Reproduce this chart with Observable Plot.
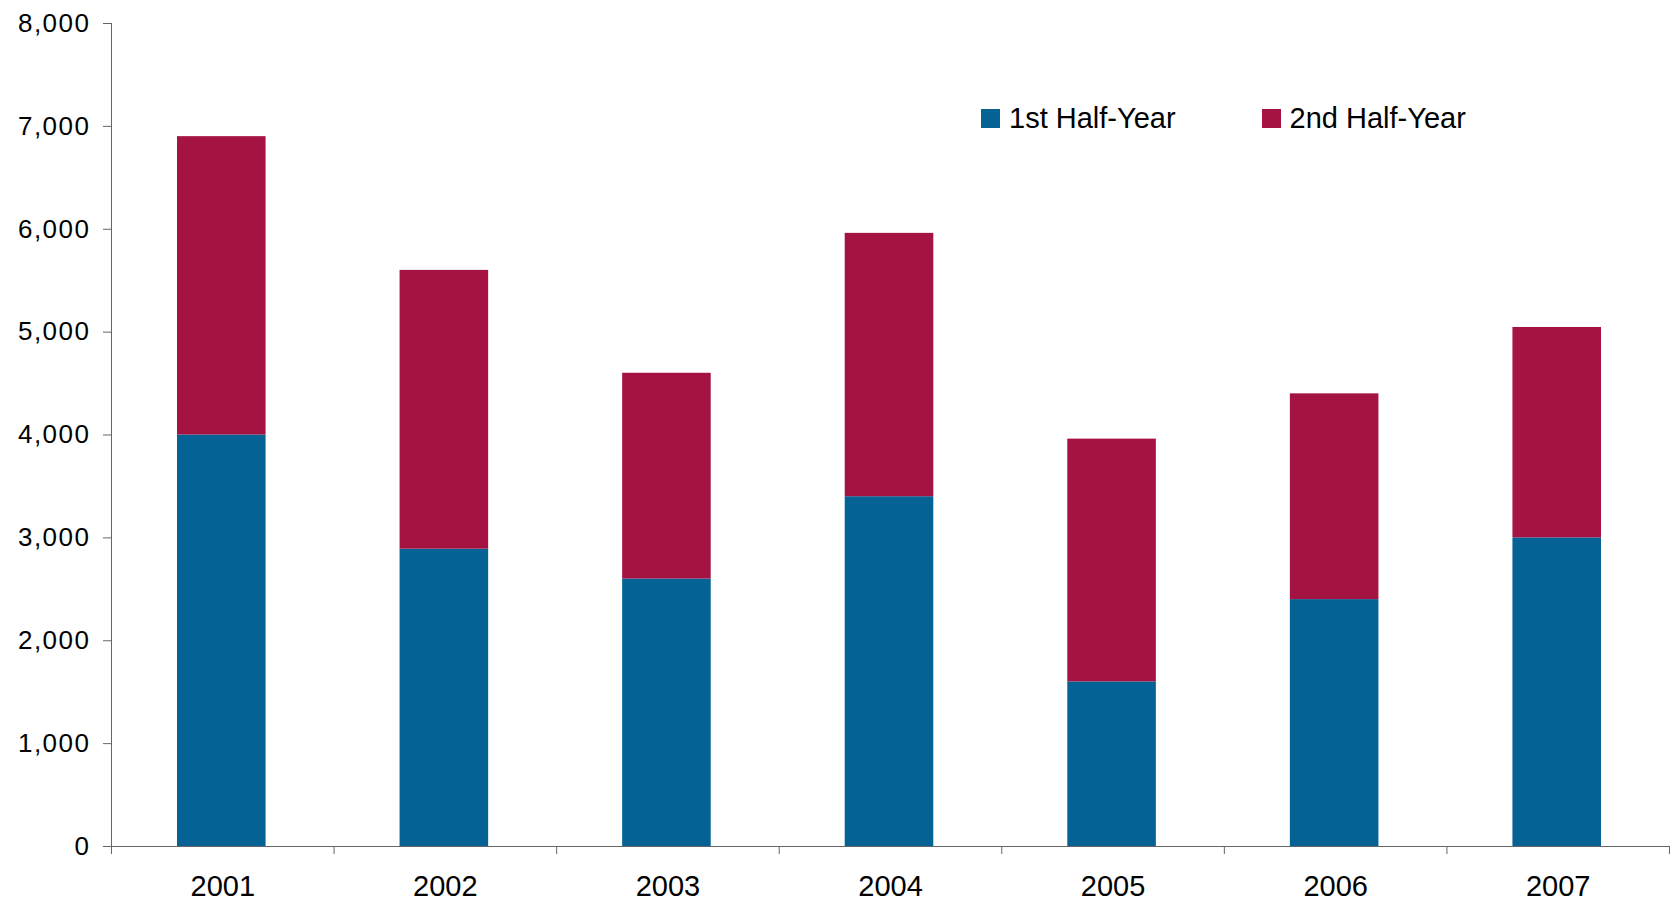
<!DOCTYPE html>
<html>
<head>
<meta charset="utf-8">
<script src="https://cdn.jsdelivr.net/npm/d3@7"></script>
<script src="https://cdn.jsdelivr.net/npm/@observablehq/plot@0.6"></script>
<style>
  body { margin: 0; background: #fff; font-family: "Liberation Sans", Arial, sans-serif; }
  #wrap { position: relative; width: 1672px; height: 903px; }
  #legend { position: absolute; top: 102px; left: 981px; height: 33px; display: flex; align-items: center; font-size: 29px; line-height: 33px; color: #000; white-space: nowrap; }
  .item { display: flex; align-items: center; }
  .sw { width: 19px; height: 19px; margin-right: 9px; }
  .ylab text { letter-spacing: 1.5px; }
</style>
</head>
<body>
<div id="wrap"><div id="legend"></div></div>
<script>
const years = ["2001", "2002", "2003", "2004", "2005", "2006", "2007"];
const series = ["1st Half-Year", "2nd Half-Year"];
const colors = ["#046394", "#A51342"];
const firstHalf = [4000, 2890, 2600, 3400, 1600, 2400, 3000];
const secondHalf = [2900, 2710, 2000, 2560, 2360, 2000, 2045];
const yTicks = [0, 1000, 2000, 3000, 4000, 5000, 6000, 7000, 8000];

const data = [];
years.forEach((y, i) => {
  data.push({i, year: y, series: series[0], value: firstHalf[i]});
  data.push({i, year: y, series: series[1], value: secondHalf[i]});
});

const chart = Plot.plot({
  width: 1672,
  height: 903,
  marginLeft: 111,
  marginRight: 3,
  marginTop: 23,
  marginBottom: 57,
  style: {fontFamily: '"Liberation Sans", Arial, sans-serif', fontSize: "26px", color: "#000", background: "#fff"},
  x: {domain: [0, years.length], axis: null, label: null},
  y: {domain: [0, 8000], axis: null, label: null},
  color: {domain: series, range: colors},
  marks: [
    Plot.rectY(data, {x1: d => d.i, x2: d => d.i + 1, y: "value", fill: "series", insetLeft: 66, insetRight: 68}),
    Plot.axisY({ticks: yTicks, tickFormat: d3.format(","), tickSize: 8, tickPadding: 13, stroke: "#666", fontSize: 26, label: null, className: "ylab"}),
    Plot.axisX({ticks: d3.range(0, years.length + 1), tickSize: 8, tickFormat: () => "", stroke: "#666", label: null}),
    Plot.axisX({ticks: years.map((_, i) => i + 0.5), tickSize: 0, tickPadding: 29, tickFormat: v => years[Math.floor(v)], fontSize: 29, label: null}),
    Plot.ruleX([0], {stroke: "#666"}),
    Plot.ruleY([0], {stroke: "#666"})
  ]
});
document.getElementById("wrap").appendChild(chart);

const legend = document.getElementById("legend");
series.forEach((s, k) => {
  const item = document.createElement("div");
  item.className = "item";
  if (k > 0) item.style.marginLeft = "86px";
  const sw = document.createElement("div");
  sw.className = "sw";
  sw.style.background = colors[k];
  const t = document.createElement("span");
  t.textContent = s;
  item.appendChild(sw);
  item.appendChild(t);
  legend.appendChild(item);
});
</script>
</body>
</html>
